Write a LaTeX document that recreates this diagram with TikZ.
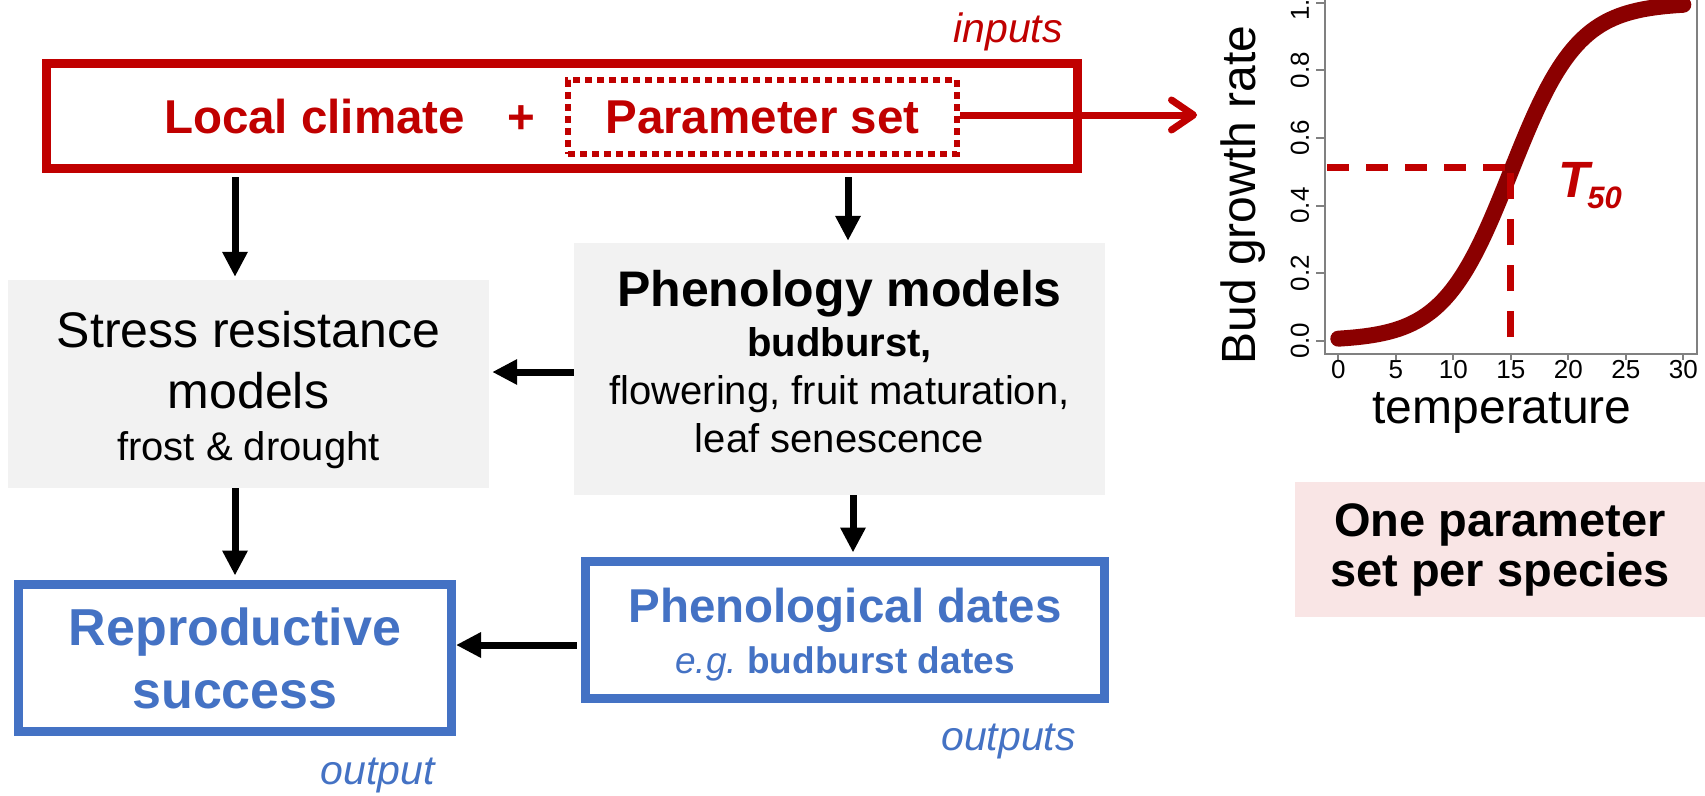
\documentclass[tikz,border=0pt]{standalone}
\usepackage{fontspec}
\setmainfont{Liberation Sans}
\usetikzlibrary{arrows.meta,positioning,calc}
\definecolor{ink}{HTML}{000000}
\definecolor{inred}{HTML}{C00000}
\definecolor{curvered}{HTML}{8B0000}
\definecolor{outblue}{HTML}{4472C4}
\definecolor{boxgray}{HTML}{F2F2F2}
\definecolor{notepink}{HTML}{F9E5E5}
\definecolor{axisgray}{HTML}{808080}
\newcommand{\fsz}[2]{\fontsize{#1pt}{#2pt}\selectfont}
\tikzset{
  modelbox/.style={fill=boxgray, draw=none, align=center, inner sep=0pt, text=ink},
  outbox/.style={draw=outblue, line width=9pt, fill=white, align=center, inner sep=0pt, text=outblue},
  flow/.style={-{Triangle[length=25pt,width=24pt]}, line width=7pt, draw=ink},
  pointer/.style={-{Straight Barb[length=22pt,width=30pt,round]}, line width=7pt, draw=inred},
  tag/.style={font=\itshape\fsz{41}{41}, inner sep=0pt},
  ticklab/.style={font=\fsz{26}{26}, inner sep=0pt, text=ink},
  axisline/.style={draw=axisgray, line width=2pt}
}

\begin{document}
\begin{tikzpicture}[x=1pt,y=-1pt]
\useasboundingbox (0,0) rectangle (1705,795);

% Inputs
\node[draw=inred, line width=9pt, minimum width=1031pt, minimum height=104.5pt, inner sep=0pt] (inbox) at (561.5,115.75) {};
\node[anchor=base, inner sep=0pt, text=inred, font=\bfseries\fsz{47.5}{47.5}] (climate) at (314.5,133) {Local climate};
\node[anchor=base, inner sep=0pt, text=inred, font=\bfseries\fsz{47.5}{47.5}] (plus) at (521,133) {+};
\node[draw=inred, line width=6pt, dash pattern=on 7pt off 5pt, minimum width=389pt, minimum height=74pt, inner sep=0pt, text=inred, font=\bfseries\fsz{47.5}{47.5}] (param) at (762.5,117) {Parameter set};
\node[tag, text=inred, anchor=base east] (intag) at (1063,42) {inputs};

% Models
\node[modelbox, minimum width=481pt, minimum height=208pt, font=\fsz{50}{61}] (stress) at (248.5,384) {\rule{0pt}{48pt}Stress resistance\\models\\[-9pt]{\fsz{40}{48}frost \& drought}};
\node[modelbox, minimum width=531pt, minimum height=252pt, font=\fsz{40}{48}] (pheno) at (839.5,369) {{\bfseries\fsz{50}{50}Phenology models}\\[2pt]\textbf{budburst,}\\flowering, fruit maturation,\\leaf senescence\rule[-16pt]{0pt}{0pt}};

% Outputs
\node[outbox, minimum width=433pt, minimum height=147pt, font=\bfseries\fsz{52}{63}] (repro) at (235,658) {Reproductive\\success};
\node[outbox, minimum width=519pt, minimum height=137pt, font=\bfseries\fsz{47.5}{51}] (dates) at (845,630) {\rule{0pt}{43pt}Phenological dates\\{\fsz{37}{37}\mdseries\itshape e.g.\ \upshape\bfseries budburst dates}};
\node[tag, text=outblue, anchor=base east] (outstag) at (1076,750) {outputs};
\node[tag, text=outblue, anchor=base east] (outtag) at (435,784) {output};

\draw[flow, shorten <=4.5pt, shorten >=3pt] ([xshift=-13.5pt]stress.north |- inbox.south) -- ([xshift=-13.5pt]stress.north);
\draw[flow, shorten <=4.5pt, shorten >=2pt] ([xshift=8.5pt]pheno.north |- inbox.south) -- ([xshift=8.5pt]pheno.north);
\draw[flow, shorten >=3pt] ([yshift=-3pt]pheno.west) -- ([yshift=-3pt]pheno.west -| stress.east);
\draw[flow, shorten >=4.5pt] ([xshift=-13.5pt]stress.south) -- ([xshift=-13.5pt]stress.south |- repro.north);
\draw[flow, shorten >=4.5pt] ([xshift=13.5pt]pheno.south) -- ([xshift=13.5pt]pheno.south |- dates.north);
\draw[flow, shorten <=4.5pt] ([yshift=-15pt]dates.west) -- ([yshift=-15pt]dates.west -| repro.east);

% Response curve
\coordinate (curvein) at (1197,115);
\draw[pointer] ([yshift=2pt]param.east) -- (curvein);
\draw[axisline] (1324.5,-11) rectangle (1697,354);
\foreach \v/\lab [count=\i] in {0/0.0,0.2/0.2,0.4/0.4,0.6/0.6,0.8/0.8,1/1.0} {
  \draw[axisline] (1324.5,{340.7-338*\v}) -- ++(-9,0);
  \node[ticklab, rotate=90] (ytick\i) at (1300,{340.7-338*\v}) {\lab};
}
\foreach \t [count=\i] in {0,5,...,30} {
  \draw[axisline] ({1338.3+11.5*\t},354) -- ++(0,6);
  \node[ticklab, anchor=base] (xtick\i) at ({1338.3+11.5*\t},378) {\t};
}
\node[font=\fsz{48}{48}, rotate=90, anchor=base, inner sep=0pt] (ylabel) at (1255,195) {Bud growth rate};
\node[font=\fsz{48}{48}, anchor=base, inner sep=0pt] (xlabel) at (1502,423) {temperature};
\draw[curvered, line width=16pt, line cap=round] plot[domain=0:30, samples=80, smooth] ({1338.3+11.5*\x}, {340.7-338/(1+exp(-0.34*(\x-15)))});
\draw[inred, line width=7pt, dash pattern=on 22pt off 17pt] (1327,167) -- (1517,167);
\draw[inred, line width=7pt, dash pattern=on 26pt off 20pt] (1510,337) -- (1510,165);
\node[anchor=base west, inner sep=0pt, text=inred, font=\bfseries\itshape\fsz{51}{51}] (tfifty) at (1558,197) {T\kern-2pt\raisebox{-11pt}{\fsz{31}{31}50}};

\node[fill=notepink, minimum width=410pt, minimum height=135pt, align=center, inner sep=0pt, font=\bfseries\fsz{47}{50}] (note) at (1500,549.5) {One parameter\\set per species};
\end{tikzpicture}
\end{document}
